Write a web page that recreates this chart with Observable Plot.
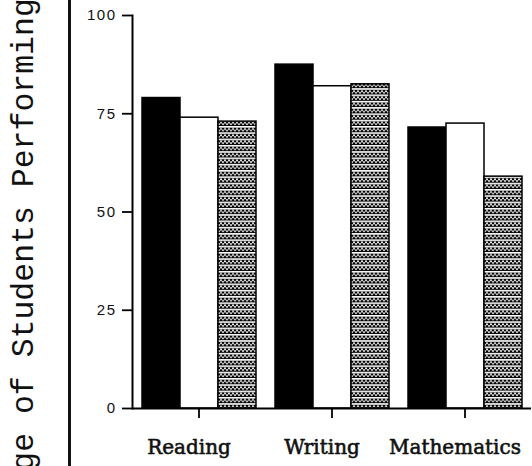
<!DOCTYPE html>
<html>
<head>
<meta charset="utf-8">
<script src="https://cdn.jsdelivr.net/npm/d3@7"></script>
<script src="https://cdn.jsdelivr.net/npm/@observablehq/plot@0.6"></script>
<style>
  html, body { margin: 0; padding: 0; background: #fff; }
  #wrap { position: relative; width: 532px; height: 466px; overflow: hidden; background: #fff; }
  #ytitle {
    position: absolute; left: 9px; top: 622px;
    transform-origin: 0 0; transform: rotate(-90deg);
    font-family: "Liberation Mono", "DejaVu Sans Mono", monospace;
    font-size: 31.5px; line-height: 31px; white-space: nowrap; color: #111;
  }
  #divider { position: absolute; left: 68px; top: 0; width: 3px; height: 466px; background: #111; }
  #chart { position: absolute; left: 0; top: 0; }
  g[aria-label="y-axis tick label"] text { letter-spacing: 1.5px; }
</style>
</head>
<body>
<div id="wrap">
  <div id="ytitle">Percentage of Students Performing at or Above Standard</div>
  <div id="divider"></div>
  <div id="chart"></div>
</div>
<script>
const subjects = ["Reading", "Writing", "Mathematics"];
const series = ["Series A", "Series B", "Series C"];
const seriesA = [79, 87.5, 71.5];   // black bars
const seriesB = [74, 82, 72.5];     // white bars
const seriesC = [73, 82.5, 59];     // patterned bars
const yTicks = [0, 25, 50, 75, 100];

const values = [seriesA, seriesB, seriesC];
const data = [];
subjects.forEach((s, i) => series.forEach((k, j) => data.push({subject: s, series: k, value: values[j][i]})));

const plot = Plot.plot({
  width: 532,
  height: 466,
  marginLeft: 132,
  marginRight: 1,
  marginTop: 15,
  marginBottom: 58,
  fx: {domain: subjects, paddingInner: 0, paddingOuter: 0},
  x: {domain: series, paddingInner: 0, paddingOuter: 0.215, axis: null},
  y: {domain: [0, 100]},
  color: {domain: series, range: ["black", "white", "url(#dots)"]},
  marks: [
    Plot.barY(data, {fx: "subject", x: "series", y: "value", fill: "series", stroke: "black", strokeWidth: 1.5}),
    Plot.ruleY([0], {stroke: "black", strokeWidth: 2}),
    Plot.frame({anchor: "left", facetAnchor: "left", stroke: "black", strokeWidth: 2}),
    Plot.axisY({ticks: yTicks, tickSize: 10, tickPadding: 6, fontSize: 15, fontFamily: "Liberation Sans, Arial, sans-serif", label: null, stroke: "black", strokeWidth: 1.8, fill: "#111"}),
    Plot.axisFx({anchor: "bottom", tickSize: 10, fill: "none", stroke: "black", strokeWidth: 1.8, label: null}),
    Plot.axisFx({anchor: "bottom", tickSize: 0, tickPadding: 31, dx: -10, fontSize: 20, fontFamily: "DejaVu Serif, serif", fill: "#111", textStroke: "#111", textStrokeWidth: 0.6, label: null})
  ]
});

const ns = "http://www.w3.org/2000/svg";
const defs = document.createElementNS(ns, "defs");
defs.innerHTML = '<pattern id="dots" width="4" height="6.3" patternUnits="userSpaceOnUse">' +
  '<rect width="4" height="6.3" fill="black"/>' +
  '<rect y="0" width="4" height="1.6" fill="white"/>' +
  '<circle cx="1" cy="3.1" r="1" fill="white"/>' +
  '<circle cx="3" cy="4.5" r="1" fill="white"/>' +
  '</pattern>';
plot.insertBefore(defs, plot.firstChild);
document.getElementById("chart").appendChild(plot);
</script>
</body>
</html>
